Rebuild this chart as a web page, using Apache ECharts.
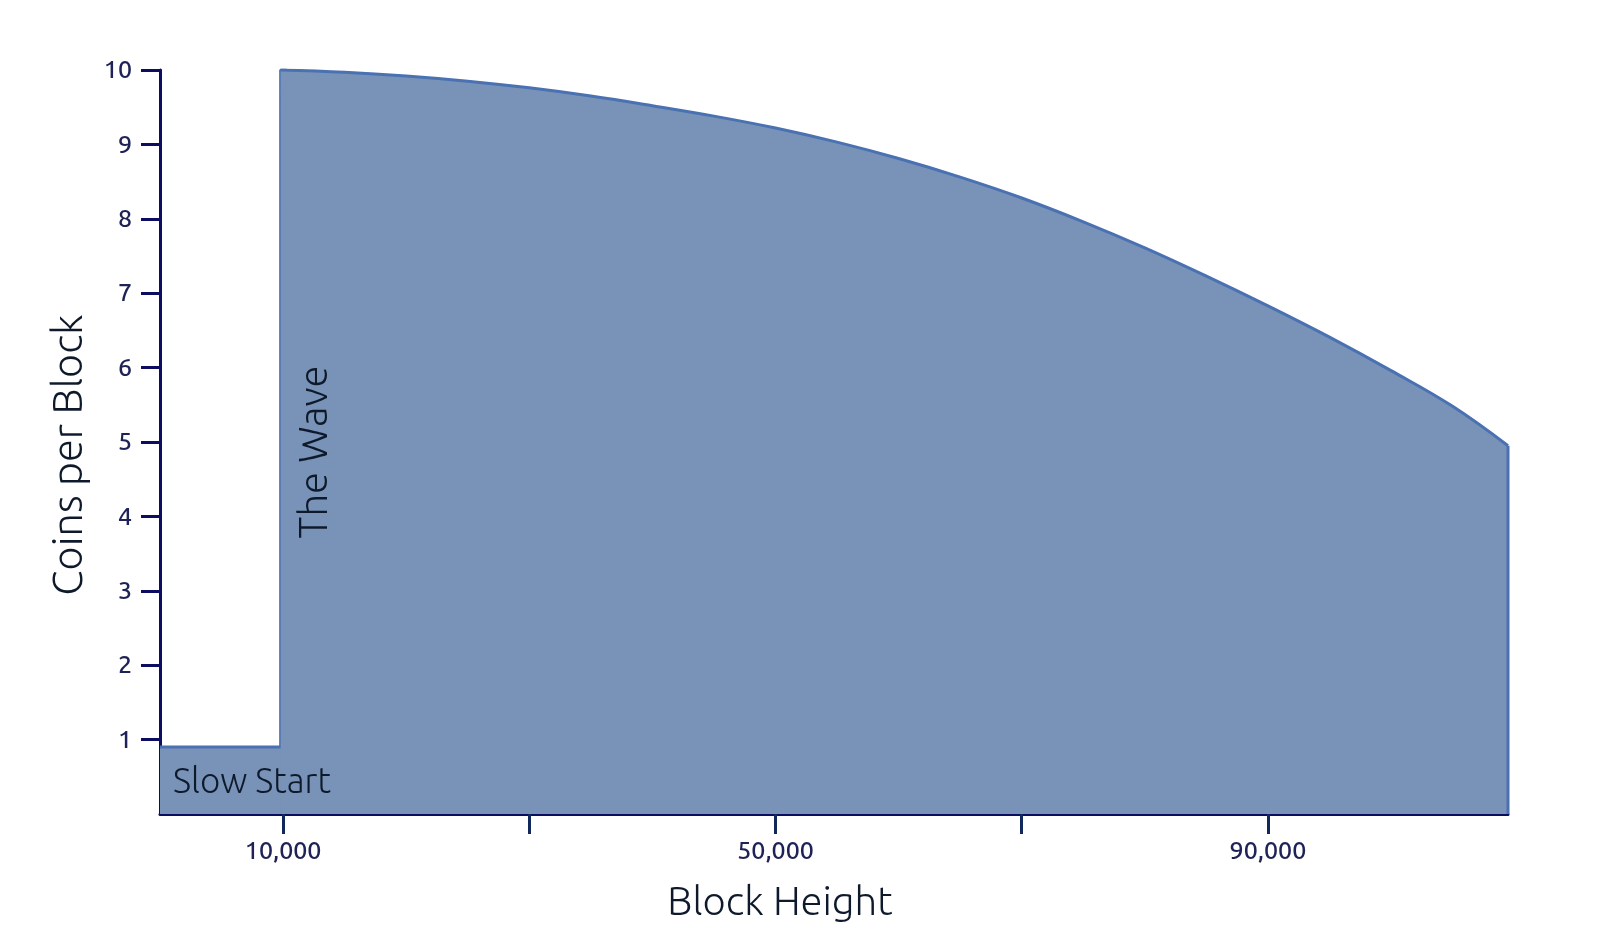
<!DOCTYPE html>
<html>
<head>
<meta charset="utf-8">
<script src="https://cdn.jsdelivr.net/npm/echarts@6/dist/echarts.min.js"></script>
<style>
html,body{margin:0;padding:0;background:#fff;}
#chart{width:1600px;height:944px;}
</style>
</head>
<body>
<div id="chart"></div>
<script>
// Slow start segment (block height, coins per block)
var slowStartHeights = [0, 9800, 9800, 10300];
var slowStartCoins = [0.9, 0.9, 10, 10];
// The Wave curve (block height, coins per block)
var waveHeights = [9800, 15000, 20000, 25000, 30000, 35000, 40000, 45000, 50000, 55000, 60000, 65000, 70000, 75000, 80000, 85000, 90000, 95000, 100000, 105000, 109500];
var waveCoins = [10, 9.97, 9.92, 9.85, 9.76, 9.65, 9.52, 9.38, 9.22, 9.03, 8.81, 8.56, 8.28, 7.96, 7.61, 7.23, 6.83, 6.41, 5.96, 5.48, 4.95];
// Closing edge at the end of the wave
var endHeights = [109500, 109500];
var endCoins = [4.95, 0];
var xTickValues = [10000, 30000, 50000, 70000, 90000];
var xLabelValues = [10000, 50000, 90000];
var yTickValues = [1, 2, 3, 4, 5, 6, 7, 8, 9, 10];
var annotations = ['Slow Start', 'The Wave'];
var xTitle = 'Block Height';
var yTitle = 'Coins per Block';

var FONT = "Ubuntu, 'Open Sans', 'Noto Sans', sans-serif";
var AXIS = '#0c0c62';
var FILL = '#7893b7';
var LINE = '#4a71b1';

function pairs(xs, ys) { return xs.map(function (x, i) { return [x, ys[i]]; }); }

var chart = echarts.init(document.getElementById('chart'), null, {renderer: 'canvas'});

chart.setOption({
  animation: false,
  backgroundColor: '#ffffff',
  grid: {left: 160, top: 70, right: 92, bottom: 130, containLabel: false},
  xAxis: {
    type: 'value',
    min: 0,
    max: 109500,
    axisLine: {show: true, onZero: false, lineStyle: {color: AXIS, width: 3}},
    axisTick: {show: true, customValues: xTickValues, length: 20, lineStyle: {color: '#10285a', width: 3}},
    axisLabel: {
      customValues: xLabelValues,
      margin: 24,
      fontFamily: FONT,
      fontSize: 25,
      fontWeight: 500,
      color: '#1f2256',
      formatter: function (v) { return v.toLocaleString('en-US'); }
    },
    splitLine: {show: false}
  },
  yAxis: {
    type: 'value',
    min: 0,
    max: 10,
    interval: 1,
    axisLine: {show: true, onZero: false, lineStyle: {color: AXIS, width: 3}},
    axisTick: {show: true, customValues: yTickValues, length: 19, lineStyle: {color: AXIS, width: 3}},
    axisLabel: {
      customValues: yTickValues,
      margin: 28,
      fontFamily: FONT,
      fontSize: 25,
      fontWeight: 500,
      color: '#1f2256'
    },
    splitLine: {show: false}
  },
  series: [
    {
      type: 'line',
      data: pairs(slowStartHeights, slowStartCoins),
      symbol: 'none',
      z: 1,
      lineStyle: {color: LINE, width: 3},
      areaStyle: {color: FILL, opacity: 1, origin: 0}
    },
    {
      type: 'line',
      data: pairs(waveHeights, waveCoins),
      symbol: 'none',
      smooth: 0.4,
      z: 2,
      lineStyle: {color: LINE, width: 3},
      areaStyle: {color: FILL, opacity: 1, origin: 0}
    },
    {
      type: 'line',
      data: pairs(endHeights, endCoins),
      symbol: 'none',
      z: 3,
      lineStyle: {color: LINE, width: 3}
    }
  ],
  graphic: [
    {
      type: 'text',
      left: 173,
      top: 764,
      z: 10,
      style: {text: annotations[0], fontFamily: FONT, fontSize: 35, fontWeight: 300, fill: '#0e1a2b'}
    },
    {
      type: 'text',
      x: 314,
      y: 452,
      rotation: Math.PI / 2,
      z: 10,
      style: {text: annotations[1], fontFamily: FONT, fontSize: 40, fontWeight: 300, fill: '#0e1a2b', align: 'center', verticalAlign: 'middle'}
    },
    {
      type: 'text',
      x: 780,
      y: 902,
      z: 10,
      style: {text: xTitle, fontFamily: FONT, fontSize: 40, fontWeight: 300, fill: '#0e1a2b', align: 'center', verticalAlign: 'middle'}
    },
    {
      type: 'text',
      x: 68,
      y: 455,
      rotation: Math.PI / 2,
      z: 10,
      style: {text: yTitle, fontFamily: FONT, fontSize: 41.5, fontWeight: 300, fill: '#0e1a2b', align: 'center', verticalAlign: 'middle'}
    }
  ]
});
</script>
</body>
</html>
